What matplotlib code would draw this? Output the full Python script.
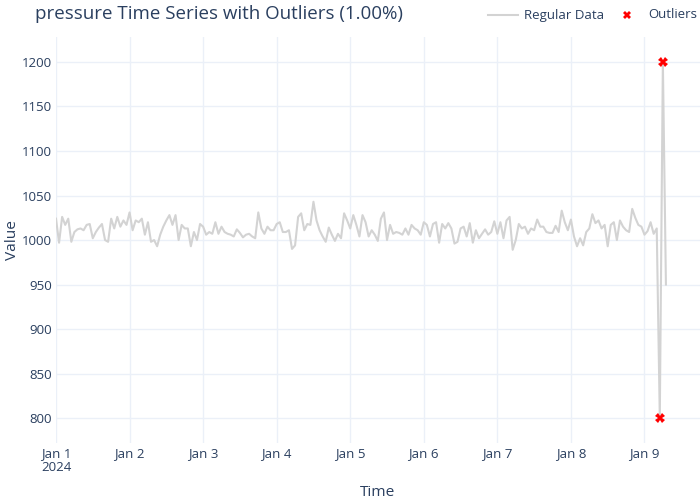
import matplotlib
matplotlib.use('Agg')
import matplotlib.pyplot as plt
import pandas as pd
from matplotlib.lines import Line2D

plt.rcParams['font.family'] = ['Open Sans', 'DejaVu Sans']

start_time = '2024-01-01 00:00'
values = [
    1024, 997, 1026, 1017, 1024, 998, 1009, 1012, 1013, 1011, 1017, 1018, 1002, 1009, 1014, 1018,
    1000, 998, 1024, 1013, 1026, 1015, 1022, 1017, 1031, 1011, 1022, 1020, 1024, 1006, 1020, 998,
    1000, 993, 1006, 1015, 1022, 1028, 1017, 1028, 1000, 1017, 1013, 1013, 993, 1009, 1000, 1018,
    1015, 1006, 1009, 1007, 1020, 1007, 1015, 1009, 1007, 1006, 1004, 1012, 1008, 1003, 1006,
    1007, 1004, 1002, 1031, 1013, 1007, 1015, 1011, 1011, 1018, 1020, 1009, 1009, 1011, 990, 994,
    1026, 1030, 1011, 1018, 1017, 1043, 1022, 1011, 1004, 998, 1014, 1006, 999, 1007, 1002, 1030,
    1022, 1013, 1028, 1017, 1004, 1028, 1020, 1004, 1011, 1006, 999, 1024, 1031, 1000, 1017, 1007,
    1009, 1008, 1006, 1013, 1006, 1017, 1013, 1011, 1006, 1020, 1017, 1004, 1018, 1020, 997, 1018,
    1013,
    1019, 1013, 996, 998, 1013, 1015, 1004, 1019, 997, 1011, 1002, 1007, 1012, 1006, 1009, 1021,
    1007, 1020, 1002, 1022, 1026, 989, 1000, 1018, 1013, 1015, 1007, 1013, 1011, 1023, 1015, 1015,
    1009, 1008, 1008, 1016, 1009, 1033, 1020, 1011, 1023, 1004, 993, 1002, 994, 1009, 1013, 1029,
    1019,
    1022, 1013, 1017, 993, 1017, 1020, 1000, 1022, 1015, 1011, 1009, 1035, 1025, 1017, 1015, 1006,
    1010, 1020, 1007, 1013,
    800, 1200, 950,
]
outlier_idx = [197, 198]
y_ticks = [800, 850, 900, 950, 1000, 1050, 1100, 1150, 1200]
x_tick_dates = pd.date_range('2024-01-01', '2024-01-09', freq='D')
x_tick_labels = ['Jan 1\n2024', 'Jan 2', 'Jan 3', 'Jan 4', 'Jan 5', 'Jan 6', 'Jan 7', 'Jan 8', 'Jan 9']
legend_labels = ['Regular Data', 'Outliers']

times = pd.date_range(start_time, periods=len(values), freq='h')
out_t = [times[i] for i in outlier_idx]
out_v = [values[i] for i in outlier_idx]

txt = '#2a3f5f'
grid = '#EBF0F8'
line_c = '#D3D3D3'
fs_tick = 9.5
fs_label = 11.1
fs_title = 13.5

fig = plt.figure(figsize=(7, 5), dpi=100)
ax = fig.add_axes([56/700, 1-443/500, 1-56/700, (443-36.7)/500])
ax.plot(times, values, color=line_c, lw=1.5, zorder=2)
ax.plot(out_t, out_v, linestyle='none', marker='X', color='red', markersize=6.5,
        markeredgewidth=0, zorder=3)

ax.set_xlim(pd.Timestamp('2024-01-01 00:00'), pd.Timestamp('2024-01-09 18:07'))
ax.set_ylim(772, 1228.4)
ax.set_yticks(y_ticks)
ax.set_xticks(x_tick_dates)
ax.set_xticklabels(x_tick_labels)
for s in ax.spines.values():
    s.set_visible(False)
ax.grid(True, color=grid, lw=1, zorder=0)
ax.set_axisbelow(True)
ax.tick_params(axis='both', length=0, labelsize=fs_tick, colors=txt)
ax.tick_params(axis='x', pad=3)
ax.tick_params(axis='y', pad=3)
for lab in ax.get_xticklabels():
    lab.set_linespacing(1.1)

fig.text(378/700, 1-492/500, 'Time', ha='center', va='center', fontsize=fs_label, color=txt)
fig.text(12/700, 1-240/500, 'Value', ha='center', va='center', rotation=90, fontsize=fs_label, color=txt)
fig.text(35/700, 1-14/500, 'pressure Time Series with Outliers (1.00%)', ha='left', va='center',
         fontsize=fs_title, color=txt)

# legend (drawn in figure coordinates)
ly = 1 - 15/500
fig.add_artist(Line2D([488/700, 518/700], [ly, ly], transform=fig.transFigure, color=line_c, lw=1.5))
fig.text(524/700, ly, legend_labels[0], ha='left', va='center', fontsize=fs_tick, color=txt)
fig.add_artist(Line2D([627/700], [ly], transform=fig.transFigure, linestyle='none', marker='X',
                      color='red', markersize=6, markeredgewidth=0))
fig.text(648/700, ly, legend_labels[1], ha='left', va='center', fontsize=fs_tick, color=txt)

fig.savefig('out.png', dpi=100)
